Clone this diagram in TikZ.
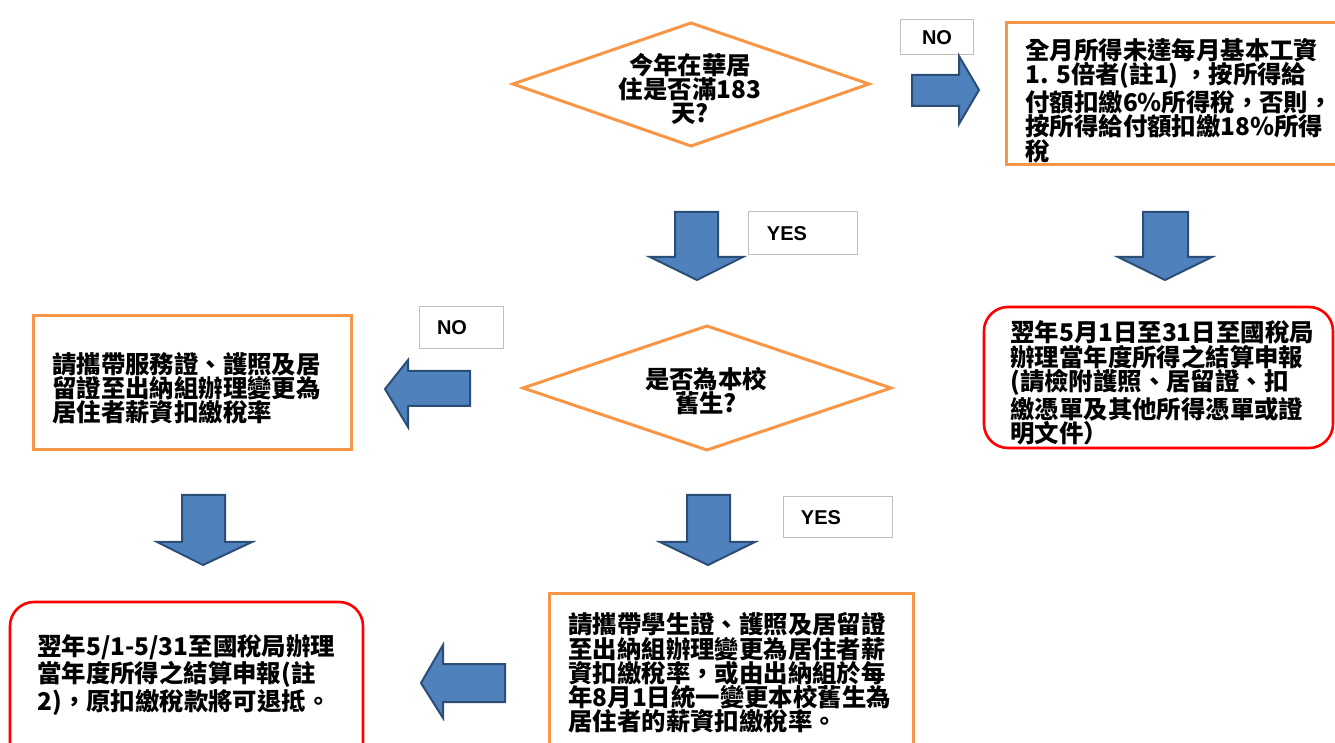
\documentclass[tikz,border=0pt]{standalone}
\usepackage{fontspec}
\newfontfamily\cjk{Noto Sans CJK TC}
\newfontfamily\lab{Liberation Sans}
\definecolor{boxorange}{HTML}{F79646}
\definecolor{boxred}{HTML}{FF0000}
\definecolor{arrowfill}{HTML}{4F81BD}
\definecolor{arrowline}{HTML}{2C4D75}
\definecolor{labline}{HTML}{BFBFBF}
\begin{document}
\begin{tikzpicture}[x=0.5pt,y=-0.5pt,
  obox/.style={draw=boxorange,line width=1.5pt,fill=white},
  rbox/.style={draw=boxred,line width=1.3pt,rounded corners=12pt,fill=white},
  dia/.style={draw=boxorange,line width=1.5pt,fill=white,line join=miter},
  blockarrow/.style={draw=arrowline,fill=arrowfill,line width=1pt,line join=miter},
  labbox/.style={draw=labline,line width=0.5pt,fill=white},
  txt/.style={inner sep=0pt,align=left,font=\cjk\bfseries\fontsize{12.2}{12.1}\selectfont},
  ctxt/.style={inner sep=0pt,align=center,font=\cjk\bfseries\fontsize{12.2}{12.2}\selectfont},
  labtxt/.style={inner sep=0pt,font=\lab\bfseries\fontsize{10}{12}\selectfont}
]
\useasboundingbox (0,0) rectangle (1335,743);
\clip (0,0) rectangle (1335,743);

% ---------- decision 1 ----------
\draw[dia] (513,84) -- (691,23) -- (869,84) -- (691,146) -- cycle;
\node[ctxt] (d1) at (690,89) {今年在華居\\住是否滿183\\天?};

% NO label 1 and right arrow
\draw[labbox] (900,20) rectangle (973,55);
\node[labtxt] (no1) at (937,37.5) {NO};
\draw[blockarrow] (912,75) -- (959,75) -- (959,56) -- (979,90) -- (959,124) -- (959,106) -- (912,106) -- cycle;

% top right box
\draw[obox] (1006,23) rectangle (1345,165);
\node[txt,anchor=west] (t1) at (1025,100.5) {全月所得未達每月基本工資\\1. 5倍者(註1) ，按所得給\\付額扣繳6\%所得稅，否則，\\按所得給付額扣繳18\%所得\\稅};

% YES label 1 and down arrow
\draw[blockarrow] (675,212) -- (718,212) -- (718,257) -- (743,257) -- (697,280) -- (650,257) -- (675,257) -- cycle;
\draw[labbox] (748,212) rectangle (857,255);
\node[labtxt] (yes1) at (787,234) {YES};

% right down arrow
\draw[blockarrow] (1143,212) -- (1188,212) -- (1188,257) -- (1212,257) -- (1165,280) -- (1118,257) -- (1143,257) -- cycle;

% right red box
\draw[rbox] (984,307) rectangle (1333,448);
\node[txt,anchor=west] (t2) at (1010,383) {翌年5月1日至31日至國稅局\\辦理當年度所得之結算申報\\(請檢附護照、居留證、扣\\繳憑單及其他所得憑單或證\\明文件）};

% ---------- decision 2 ----------
\draw[dia] (523,388) -- (707,326) -- (891,388) -- (707,450) -- cycle;
\node[ctxt] (d2) at (706,391) {是否為本校\\舊生?};

% NO label 2 and left arrow
\draw[labbox] (419,307) rectangle (503,349);
\node[labtxt] (no2) at (452,328) {NO};
\draw[blockarrow] (470,371) -- (408,371) -- (408,360) -- (385,389) -- (408,427) -- (408,406) -- (470,406) -- cycle;

% left mid box
\draw[obox] (33,316) rectangle (351,450);
\node[txt,anchor=west] (t3) at (52,388) {請攜帶服務證、護照及居\\留證至出納組辦理變更為\\居住者薪資扣繳稅率};

% left down arrow
\draw[blockarrow] (182,495) -- (225,495) -- (225,542) -- (252,542) -- (203,565) -- (157,542) -- (182,542) -- cycle;

% middle down arrow and YES label 2
\draw[blockarrow] (687,495) -- (730,495) -- (730,542) -- (755,542) -- (708,565) -- (660,542) -- (687,542) -- cycle;
\draw[labbox] (783,497) rectangle (892,538);
\node[labtxt] (yes2) at (821,518) {YES};

% bottom left red box
\draw[rbox] (10,602) rectangle (363,775);
\node[txt,anchor=west] (t4) at (37,675) {翌年5/1-5/31至國稅局辦理\\當年度所得之結算申報(註\\2)，原扣繳稅款將可退抵。};

% bottom left arrow
\draw[blockarrow] (505,664) -- (443,664) -- (443,645) -- (421,683) -- (443,718) -- (443,702) -- (505,702) -- cycle;

% bottom middle box
\draw[obox] (549,593) rectangle (913,775);
\node[txt,anchor=west] (t5) at (568,673) {請攜帶學生證、護照及居留證\\至出納組辦理變更為居住者薪\\資扣繳稅率，或由出納組於每\\年8月1日統一變更本校舊生為\\居住者的薪資扣繳稅率。};
\end{tikzpicture}
\end{document}
